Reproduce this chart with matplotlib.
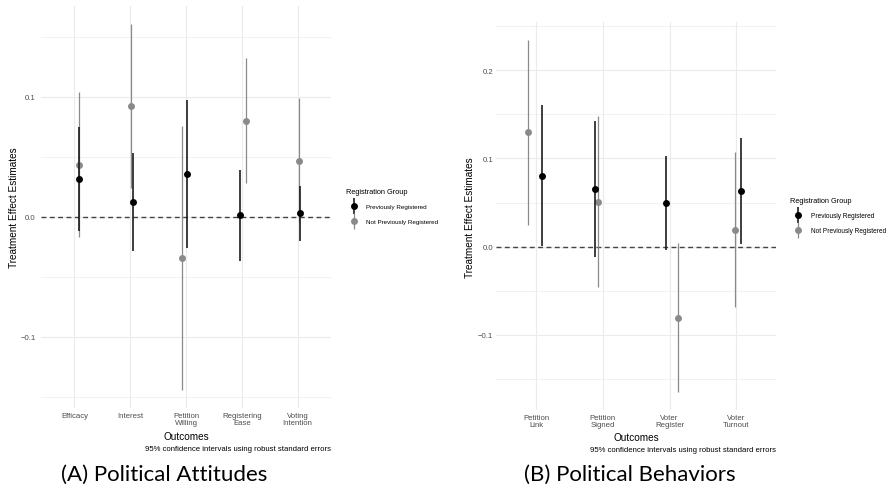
"""
plot.py — treatment effect estimates by registration group (attitudes / behaviors)
"""

import numpy as np
import matplotlib
matplotlib.use("Agg")
import matplotlib.pyplot as plt
from matplotlib.lines import Line2D
from matplotlib.ticker import MultipleLocator

# ─── DATA ──────────────────────────────────────────────────────────────────────
ATT_OUTCOMES = ["Efficacy", "Interest", "Petition\nWilling", "Registering\nEase", "Voting\nIntention"]
ATT_PREV_EST = [0.0314, 0.0120, 0.0356, 0.0014, 0.0033]
ATT_PREV_LO = [-0.0117, -0.0289, -0.0264, -0.0367, -0.0203]
ATT_PREV_HI = [0.0750, 0.0528, 0.0972, 0.0390, 0.0258]
ATT_NOTPREV_EST = [0.0433, 0.0923, -0.0344, 0.0800, 0.0467]
ATT_NOTPREV_LO = [-0.0172, 0.0239, -0.1442, 0.0283, -0.0047]
ATT_NOTPREV_HI = [0.1037, 0.1606, 0.0756, 0.1320, 0.0987]
ATT_PREV_JITTER = [0.084, 0.054, 0.018, -0.023, 0.043]
ATT_NOTPREV_JITTER = [0.077, 0.005, -0.079, 0.072, 0.025]

BEH_OUTCOMES = ["Petition\nLink", "Petition\nSigned", "Voter\nRegister", "Voter\nTurnout"]
BEH_PREV_EST = [0.0804, 0.0653, 0.0495, 0.0627]
BEH_PREV_LO = [0.0005, -0.0113, -0.0037, 0.0030]
BEH_PREV_HI = [0.1600, 0.1420, 0.1024, 0.1227]
BEH_NOTPREV_EST = [0.1296, 0.0510, -0.0804, 0.0193]
BEH_NOTPREV_LO = [0.0249, -0.0460, -0.1650, -0.0687]
BEH_NOTPREV_HI = [0.2340, 0.1477, 0.0042, 0.1069]
BEH_PREV_JITTER = [0.085, -0.124, -0.060, 0.075]
BEH_NOTPREV_JITTER = [-0.124, -0.065, 0.130, -0.015]

GROUP_LABELS = ["Previously Registered", "Not Previously Registered"]
CAPTION = "95% confidence intervals using robust standard errors"

# ─── STYLE ─────────────────────────────────────────────────────────────────────
W, H = 893, 489
PREV_COLOR = "#000000"
PREV_LINE = "#1c1c1c"
NOTPREV_COLOR = "#8a8a8a"
GRID = "#ebebeb"
TEXT = "#4d4d4d"

plt.rcParams["font.family"] = ["Liberation Sans", "DejaVu Sans"]


def px_rect(left, top, right, bottom):
    """Pixel box (from top-left) -> figure fraction rect."""
    return [left / W, 1 - bottom / H, (right - left) / W, (bottom - top) / H]


def key_handle(col, lcol, lw):
    """pointrange-style legend key: vertical bar with a dot on it."""
    bar = Line2D([], [], marker="|", markersize=11, markeredgewidth=lw,
                 color=lcol, linestyle="None")
    dot = Line2D([], [], marker="o", markersize=5, markeredgewidth=0,
                 color=col, linestyle="None")
    return (bar, dot)


def draw_panel(fig, rect, outcomes, groups, ylab_x, tick_pad, legend_xy, legend_fs, legend_sp):
    ax = fig.add_axes(rect)
    x = np.arange(1, len(outcomes) + 1)

    # ggplot-like 5% expansion on y, 0.6 on discrete x
    lo = min(min(g[2]) for g in groups)
    hi = max(max(g[3]) for g in groups)
    span = hi - lo
    ax.set_ylim(lo - 0.05 * span, hi + 0.05 * span)
    ax.set_xlim(0.4, len(outcomes) + 0.6)

    handles = []
    for (est, jit, l, h, col, lcol, lw, z) in groups:
        est = np.array(est)
        yerr = [est - np.array(l), np.array(h) - est]
        ax.errorbar(x + np.array(jit), est, yerr=yerr, fmt="o", color=col,
                    ecolor=lcol, elinewidth=lw, markersize=5, capsize=0,
                    markeredgewidth=0, zorder=z)
        handles.append(key_handle(col, lcol, lw))

    ax.axhline(0, color="#444444", linestyle=(0, (3.5, 2.5)), linewidth=1.0, zorder=1)

    ax.set_xticks(x)
    ax.set_xticklabels(outcomes, fontsize=5.6, color=TEXT, linespacing=0.95)
    ax.yaxis.set_major_locator(MultipleLocator(0.1))
    ax.yaxis.set_minor_locator(MultipleLocator(0.05))
    ax.tick_params(axis="both", which="both", length=0)
    ax.tick_params(axis="y", labelsize=5.6, labelcolor=TEXT, pad=tick_pad)
    ax.tick_params(axis="x", pad=3)
    ax.grid(True, which="major", color=GRID, linewidth=0.8, zorder=0)
    ax.grid(True, which="minor", axis="y", color=GRID, linewidth=0.5, zorder=0)
    ax.set_axisbelow(True)
    for s in ax.spines.values():
        s.set_visible(False)

    ax.set_xlabel("Outcomes", fontsize=7.2)
    ax.xaxis.set_label_coords(0.5, -0.058)
    ax.set_ylabel("Treatment Effect Estimates", fontsize=7.2)
    ax.yaxis.set_label_coords(ylab_x, 0.5)

    leg = ax.legend(handles, GROUP_LABELS, title="Registration Group",
                    loc="upper left", bbox_to_anchor=(legend_xy[0] / W, 1 - legend_xy[1] / H),
                    bbox_transform=fig.transFigure, frameon=False, fontsize=legend_fs,
                    title_fontsize=5.3, alignment="left", handlelength=2.5,
                    handletextpad=0.7, labelspacing=legend_sp, borderpad=0, borderaxespad=0)
    leg._legend_box.sep = 6
    return ax


fig = plt.figure(figsize=(W / 100, H / 100), dpi=100)

# ── (A) attitudes ──────────────────────────────────────────────────────────────
att_groups = [
    (ATT_PREV_EST, ATT_PREV_JITTER, ATT_PREV_LO, ATT_PREV_HI, PREV_COLOR, PREV_LINE, 1.2, 4),
    (ATT_NOTPREV_EST, ATT_NOTPREV_JITTER, ATT_NOTPREV_LO, ATT_NOTPREV_HI, NOTPREV_COLOR, NOTPREV_COLOR, 0.9, 3),
]
draw_panel(fig, px_rect(41, 6.7, 331, 409), ATT_OUTCOMES, att_groups,
           ylab_x=-0.075, tick_pad=4, legend_xy=(346, 189), legend_fs=4.5, legend_sp=1.65)
fig.text(331 / W, 1 - 450 / H, CAPTION, ha="right", va="center", fontsize=5.6)
fig.text(164 / W, 1 - 475 / H, "(A) Political Attitudes", ha="center", va="center",
         fontsize=16, family=["Lato", "DejaVu Sans"])

# ── (B) behaviors ──────────────────────────────────────────────────────────────
beh_groups = [
    (BEH_PREV_EST, BEH_PREV_JITTER, BEH_PREV_LO, BEH_PREV_HI, PREV_COLOR, PREV_LINE, 1.2, 4),
    (BEH_NOTPREV_EST, BEH_NOTPREV_JITTER, BEH_NOTPREV_LO, BEH_NOTPREV_HI, NOTPREV_COLOR, NOTPREV_COLOR, 0.9, 3),
]
draw_panel(fig, px_rect(496, 23.4, 776.4, 411), BEH_OUTCOMES, beh_groups,
           ylab_x=-0.075, tick_pad=2, legend_xy=(790, 198), legend_fs=4.7, legend_sp=1.2)
fig.text(776 / W, 1 - 450.7 / H, CAPTION, ha="right", va="center", fontsize=5.6)
fig.text(629.7 / W, 1 - 475 / H, "(B) Political Behaviors", ha="center", va="center",
         fontsize=16, family=["Lato", "DejaVu Sans"])

fig.savefig("out.png", dpi=100)
plt.close(fig)
